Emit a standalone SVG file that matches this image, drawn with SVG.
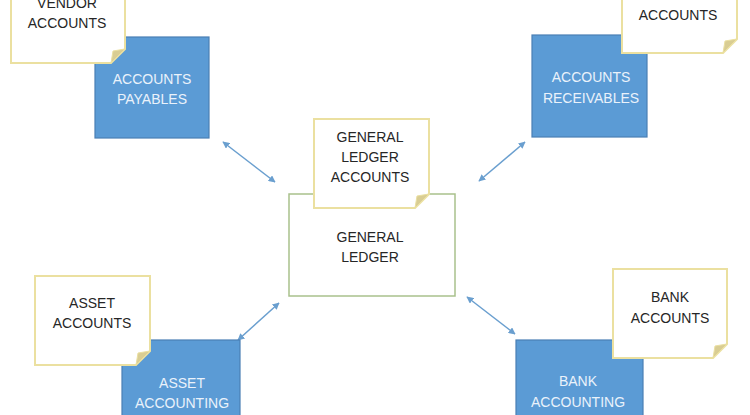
<svg xmlns="http://www.w3.org/2000/svg" width="750" height="415" viewBox="0 0 750 415">
<style>
.bg{fill:#ffffff}
.box{fill:#5b9bd5;stroke:#4a7fb5;stroke-width:1.2}
.gl{fill:#ffffff;stroke:#a9c18c;stroke-width:1.5}
.note{fill:#ffffff;stroke:#ebe0a0;stroke-width:2}
.fold{fill:#d9cd93;stroke:#ebe0a0;stroke-width:1}
.wt{font-family:"Liberation Sans",Arial,sans-serif;font-size:14px;fill:#eaf2fb;text-anchor:middle}
.dt{font-family:"Liberation Sans",Arial,sans-serif;font-size:14px;fill:#262626;text-anchor:middle}
.conn{stroke:#6a9fcf;stroke-width:1.5;fill:none;marker-start:url(#ah);marker-end:url(#ah)}
</style>
<defs>
<marker id="ah" viewBox="0 0 10 10" refX="9" refY="5" markerWidth="7" markerHeight="7" orient="auto-start-reverse" markerUnits="userSpaceOnUse">
<path d="M0,0 L10,5 L0,10 Z" fill="#6a9fcf"/>
</marker>
</defs>
<rect class="bg" x="0" y="0" width="750" height="415"/>
<g id="connectors">
<line class="conn" x1="223" y1="142" x2="275" y2="182"/>
<line class="conn" x1="525" y1="142" x2="479" y2="181"/>
<line class="conn" x1="279" y1="303" x2="238" y2="340"/>
<line class="conn" x1="467" y1="297" x2="515" y2="334"/>
</g>
<g id="accounts-payables">
<rect class="box" x="95" y="37" width="114" height="101"/>
<text class="wt" x="152" y="84">ACCOUNTS</text>
<text class="wt" x="152" y="104">PAYABLES</text>
</g>
<g id="vendor-accounts">
<path class="note" d="M11,-5 H125 V49 L111,63 H11 Z"/>
<path class="fold" d="M125,49 L111,63 L113,51 Z"/>
<text class="dt" x="67" y="8">VENDOR</text>
<text class="dt" x="67" y="28">ACCOUNTS</text>
</g>
<g id="accounts-receivables">
<rect class="box" x="532" y="35" width="115" height="102"/>
<text class="wt" x="591" y="82">ACCOUNTS</text>
<text class="wt" x="591" y="103">RECEIVABLES</text>
</g>
<g id="customer-accounts">
<path class="note" d="M622,-5 H737 V39 L723,53 H622 Z"/>
<path class="fold" d="M737,39 L723,53 L725,41 Z"/>
<text class="dt" x="678" y="20">ACCOUNTS</text>
</g>
<g id="general-ledger">
<rect class="gl" x="289" y="194" width="166" height="102"/>
<text class="dt" x="370" y="242">GENERAL</text>
<text class="dt" x="370" y="262">LEDGER</text>
</g>
<g id="general-ledger-accounts">
<path class="note" d="M314,119 H429 V194 L415,208 H314 Z"/>
<path class="fold" d="M429,194 L415,208 L417,196 Z"/>
<text class="dt" x="370" y="142">GENERAL</text>
<text class="dt" x="370" y="162">LEDGER</text>
<text class="dt" x="370" y="182">ACCOUNTS</text>
</g>
<g id="asset-accounting">
<rect class="box" x="122" y="340" width="118" height="85"/>
<text class="wt" x="182" y="388">ASSET</text>
<text class="wt" x="182" y="408">ACCOUNTING</text>
</g>
<g id="asset-accounts">
<path class="note" d="M35,276 H150 V351 L136,365 H35 Z"/>
<path class="fold" d="M150,351 L136,365 L138,353 Z"/>
<text class="dt" x="92" y="308">ASSET</text>
<text class="dt" x="92" y="328">ACCOUNTS</text>
</g>
<g id="bank-accounting">
<rect class="box" x="516" y="340" width="127" height="85"/>
<text class="wt" x="578" y="386">BANK</text>
<text class="wt" x="578" y="407">ACCOUNTING</text>
</g>
<g id="bank-accounts">
<path class="note" d="M613,269 H727 V344 L713,358 H613 Z"/>
<path class="fold" d="M727,344 L713,358 L715,346 Z"/>
<text class="dt" x="670" y="302">BANK</text>
<text class="dt" x="670" y="323">ACCOUNTS</text>
</g>
</svg>
